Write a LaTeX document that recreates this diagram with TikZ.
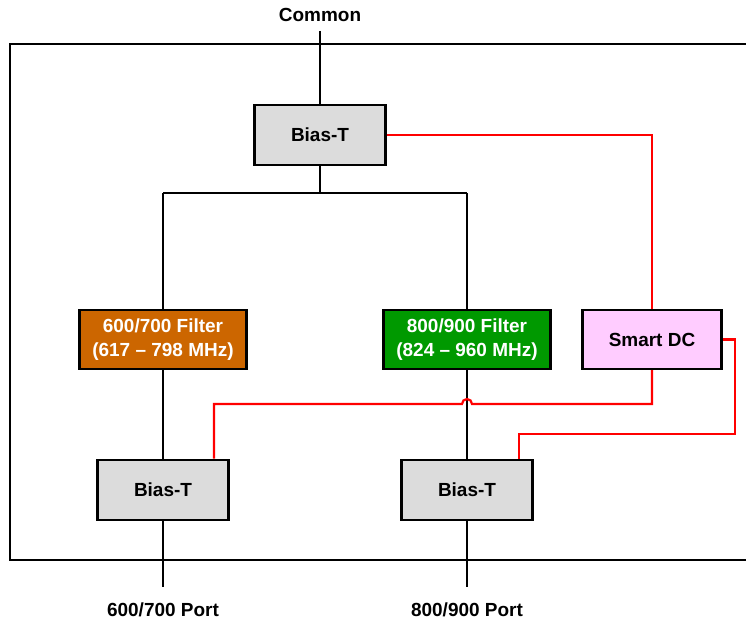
\documentclass[tikz,border=0pt]{standalone}
\usepackage{fontspec}
\setmainfont{Liberation Sans}
\usepackage{circuitikz}

\definecolor{boxgray}{RGB}{220,220,220}
\definecolor{filtorange}{RGB}{204,102,0}
\definecolor{filtgreen}{RGB}{0,153,0}
\definecolor{dcpink}{RGB}{255,204,255}
\definecolor{dcred}{RGB}{255,0,0}

\begin{document}
\begin{tikzpicture}[
    font=\fontsize{10.8}{13.6}\selectfont\bfseries,
    wire/.style={line width=1.25pt},
    dcwire/.style={line width=1.25pt, dcred},
    biasbox/.style={draw, line width=1.25pt, fill=boxgray, minimum width=2.62cm, minimum height=1.21cm},
    filtbox/.style={draw, line width=1.25pt, text=white, align=center, minimum width=3.34cm, minimum height=1.18cm},
    dcbox/.style={draw, line width=1.25pt, fill=dcpink, minimum width=2.78cm, minimum height=1.18cm}
    ]
    \useasboundingbox (0,0) rectangle (14.92,12.46);
    % housing
    \draw[wire] (14.92,11.58) -- (0.2,11.58) -- (0.2,1.26) -- (14.92,1.26);
    %
    \draw
    (6.4,12.16)node(common){Common}
    (6.4,11.84)coordinate(ctop)
    (6.4,9.76)node(bt)[biasbox]{Bias-T}
    (6.4,8.6)coordinate(split)
    (3.26,8.6)coordinate(splitl)
    (9.34,8.6)coordinate(splitr)
    (3.26,5.67)node(f600)[filtbox, fill=filtorange]{600/700 Filter\\(617 -- 798 MHz)}
    (9.34,5.67)node(f800)[filtbox, fill=filtgreen]{800/900 Filter\\(824 -- 960 MHz)}
    (13.04,5.67)node(dc)[dcbox]{Smart DC}
    (3.26,2.66)node(bt600)[biasbox]{Bias-T}
    (9.34,2.66)node(bt800)[biasbox]{Bias-T}
    (3.26,0.72)coordinate(p600)
    (9.34,0.72)coordinate(p800)
    (3.26,0.26)node(port600){600/700 Port}
    (9.34,0.26)node(port800){800/900 Port};
    %
    \draw[wire] (ctop)--(bt);
    \draw[wire] (bt)--(split);
    \draw[wire] (splitl)--(splitr);
    \draw[wire] (splitl)--(f600);
    \draw[wire] (splitr)--(f800);
    \draw[wire] (f600)--(bt600);
    \draw[wire] (f800)--(bt800);
    \draw[wire] (bt600)--(p600);
    \draw[wire] (bt800)--(p800);
    %
    \draw[dcwire] (bt.east)-|(dc.north);
    \draw[dcwire] (dc.south)|-(9.44,4.38) arc (0:180:0.1) -- (4.28,4.38) -- (4.28,2.66 |- bt600.north);
    \draw[dcwire] (dc.east)-|(14.7,3.78) -- (10.38,3.78) -- (10.38,2.66 |- bt800.north);
\end{tikzpicture}
\end{document}
